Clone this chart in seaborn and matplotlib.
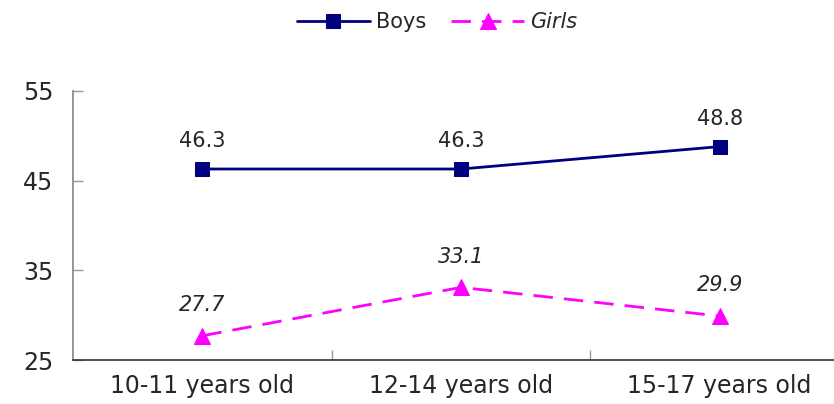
import numpy as np
import pandas as pd
import seaborn as sns
import matplotlib.pyplot as plt
from matplotlib.ticker import FixedLocator

categories = ["10-11 years old", "12-14 years old", "15-17 years old"]
boys = [46.3, 46.3, 48.8]
girls = [27.7, 33.1, 29.9]
yticks = [25, 35, 45, 55]

sns.set_theme(style="white")
plt.rcParams['font.family'] = ['DejaVu Sans']

pos = np.arange(len(categories))
df_boys = pd.DataFrame({'x': pos, 'value': boys})
df_girls = pd.DataFrame({'x': pos, 'value': girls})

fig = plt.figure(figsize=(8.34, 4.04), dpi=100)
ax = fig.add_axes([73 / 834, 44 / 404, 776 / 834, 269 / 404])

sns.lineplot(data=df_boys, x='x', y='value', ax=ax, color='#000080', lw=2,
             marker='s', markersize=10, markeredgecolor='#000080', label='Boys')
sns.lineplot(data=df_girls, x='x', y='value', ax=ax, color='#FF00FF', lw=2,
             marker='^', markersize=11, markeredgecolor='#FF00FF', label='Girls')
ax.lines[1].set_dashes([7, 4])

for i, v in enumerate(boys):
    ax.annotate(f"{v}", (pos[i], v), xytext=(0, 13), textcoords='offset points',
                ha='center', va='bottom', fontsize=15, color='#262626')
for i, v in enumerate(girls):
    ax.annotate(f"{v}", (pos[i], v), xytext=(0, 15), textcoords='offset points',
                ha='center', va='bottom', fontsize=15, color='#262626', style='italic')

ax.set_xlim(-0.5, 2.5)
ax.set_ylim(25, 55)
ax.set_yticks(yticks)
ax.set_xticks([0.5, 1.5])
ax.set_xticklabels([])
ax.xaxis.set_minor_locator(FixedLocator(pos))
ax.set_xticklabels(categories, minor=True)
ax.tick_params(axis='x', which='major', bottom=True, direction='in', length=7,
               color='#999999', width=1)
ax.tick_params(axis='x', which='minor', bottom=True, length=0, labelsize=17, pad=10,
               labelcolor='#262626')
ax.tick_params(axis='y', left=True, direction='in', length=7, color='#999999', width=1,
               labelsize=17, pad=14, labelcolor='#262626')
ax.set_xlabel('')
ax.set_ylabel('')
sns.despine(ax=ax, top=True, right=True)
ax.spines['left'].set_color('#888888')
ax.spines['bottom'].set_color('#333333')
ax.spines['bottom'].set_linewidth(1.2)

leg = ax.legend(loc='center', bbox_to_anchor=(437 / 834, 1 - 22 / 404),
                bbox_transform=fig.transFigure, ncol=2, frameon=False,
                fontsize=15, handlelength=3.5, columnspacing=1.2, handletextpad=0.3)
leg.get_texts()[1].set_style('italic')

fig.savefig('out.png', dpi=100)
